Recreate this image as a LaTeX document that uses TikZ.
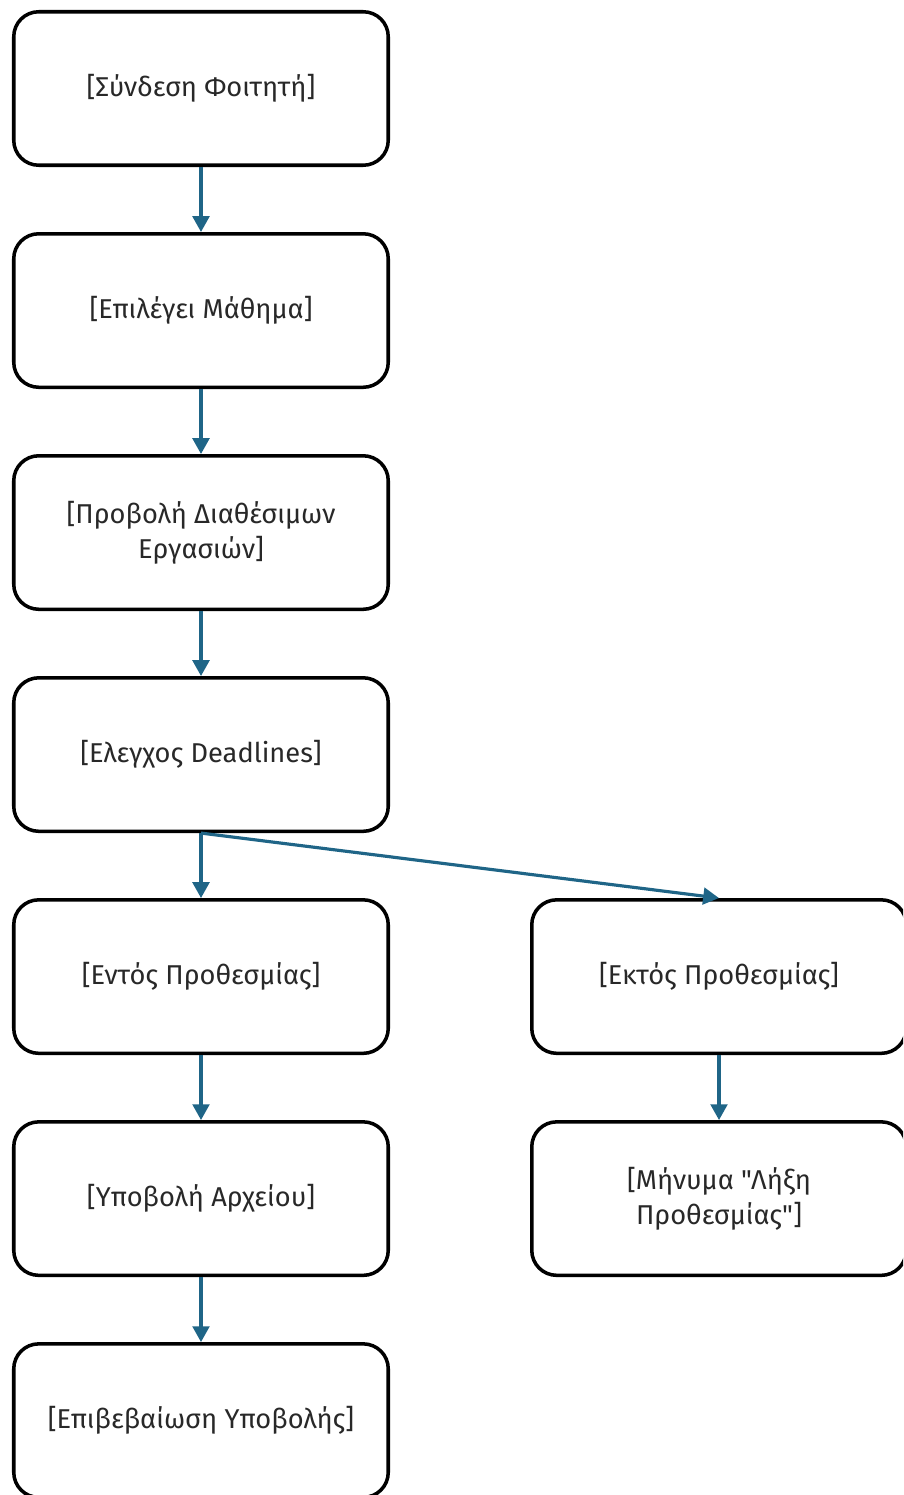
\documentclass[tikz,border=0pt]{standalone}
\usepackage{fontspec}
\setmainfont{Fira Sans}[Ligatures=TeXOff]
\usetikzlibrary{positioning, arrows.meta}
\definecolor{flowblue}{RGB}{31,101,135}
\definecolor{textgray}{RGB}{40,40,40}

\begin{document}
\begin{tikzpicture}[
                    node distance=1.3cm and 2.8cm,
                    stepbox/.style={rectangle, draw=black, line width=2pt, fill=white, rounded corners=0.5cm, minimum width=7.49cm, minimum height=3.07cm, align=center, text=textgray, font=\fontsize{15.5}{20}\selectfont},
                    arrow/.style={-{Triangle[width=9.5pt,length=9pt]}, line width=1.8pt, draw=flowblue}
                ]
                    \path[use as bounding box, clip] (0,0) rectangle (18.06,-29.9);

                    \node[stepbox] (login) at (4.02,-1.77) {[Σύνδεση Φοιτητή]};
                    \node[stepbox, below=of login] (course) {[Επιλέγει Μάθημα]};
                    \node[stepbox, below=of course] (tasks) {[Προβολή Διαθέσιμων\\Εργασιών]};
                    \node[stepbox, below=of tasks] (check) {[Ελεγχος Deadlines]};
                    \node[stepbox, below=of check] (intime) {[Εντός Προθεσμίας]};
                    \node[stepbox, right=of intime] (late) {[Εκτός Προθεσμίας]};
                    \node[stepbox, below=of intime] (upload) {[Υποβολή Αρχείου]};
                    \node[stepbox, below=of late] (expired) {[Μήνυμα "Λήξη\\Προθεσμίας"]};
                    \node[stepbox, below=of upload] (confirm) {[Επιβεβαίωση Υποβολής]};

                    \draw[arrow] (login) -- (course);
                    \draw[arrow] (course) -- (tasks);
                    \draw[arrow] (tasks) -- (check);
                    \draw[arrow] (check) -- (intime);
                    \draw[arrow] (check.south) -- (late.north);
                    \draw[arrow] (intime) -- (upload);
                    \draw[arrow] (late) -- (expired);
                    \draw[arrow] (upload) -- (confirm);

                \end{tikzpicture}
\end{document}
